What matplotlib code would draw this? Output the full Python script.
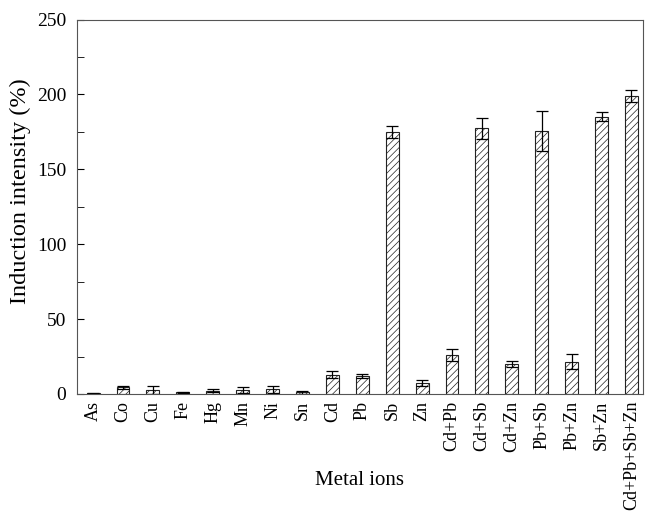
import matplotlib.pyplot as plt
from matplotlib.ticker import MultipleLocator

plt.rcParams['font.family'] = ['Liberation Serif', 'DejaVu Serif']
plt.rcParams['hatch.linewidth'] = 0.5

ions = ['As', 'Co', 'Cu', 'Fe', 'Hg', 'Mn', 'Ni', 'Sn', 'Cd', 'Pb', 'Sb', 'Zn',
        'Cd+Pb', 'Cd+Sb', 'Cd+Zn', 'Pb+Sb', 'Pb+Zn', 'Sb+Zn', 'Cd+Pb+Sb+Zn']
intensity = [0.5, 4.5, 2.5, 1.0, 2.2, 2.5, 3.0, 1.0, 13.0, 12.0, 175.0, 7.5,
             26.0, 177.5, 20.0, 175.5, 21.5, 185.0, 199.0]
error = [0.4, 1.0, 2.5, 0.6, 1.0, 2.0, 2.2, 1.0, 2.5, 1.5, 4.0, 2.0,
         4.0, 7.0, 2.0, 13.5, 5.0, 3.0, 4.0]

fig, ax = plt.subplots(figsize=(6.49, 5.15), dpi=100)
x = list(range(len(ions)))
ax.bar(x, intensity, width=0.43, color='white', edgecolor='#222222',
       linewidth=0.8, hatch='/////', yerr=error, capsize=4,
       error_kw={'elinewidth': 0.9, 'capthick': 0.9, 'ecolor': 'black'})

ax.set_xlim(-0.53, len(ions) - 0.63)
ax.set_ylim(0, 250)
ax.set_xticks(x)
ax.set_xticklabels(ions, rotation=90, fontsize=13)
ax.tick_params(axis='x', length=0, pad=5)
ax.yaxis.set_major_locator(MultipleLocator(50))
ax.yaxis.set_minor_locator(MultipleLocator(25))
ax.tick_params(axis='y', which='both', direction='in', labelsize=14, right=False, pad=8)
ax.tick_params(axis='y', which='major', length=5)
ax.tick_params(axis='y', which='minor', length=5)
for s in ax.spines.values():
    s.set_linewidth(0.8)
    s.set_color('#555555')

ax.set_xlabel('Metal ions', fontsize=15)
ax.xaxis.set_label_coords(0.5, -0.205)
ax.set_ylabel('Induction intensity (%)', fontsize=17.5)
ax.yaxis.set_label_coords(-0.082, 0.543)

fig.subplots_adjust(left=0.119, right=0.99, top=0.962, bottom=0.235)
fig.savefig('out.png', dpi=100)
